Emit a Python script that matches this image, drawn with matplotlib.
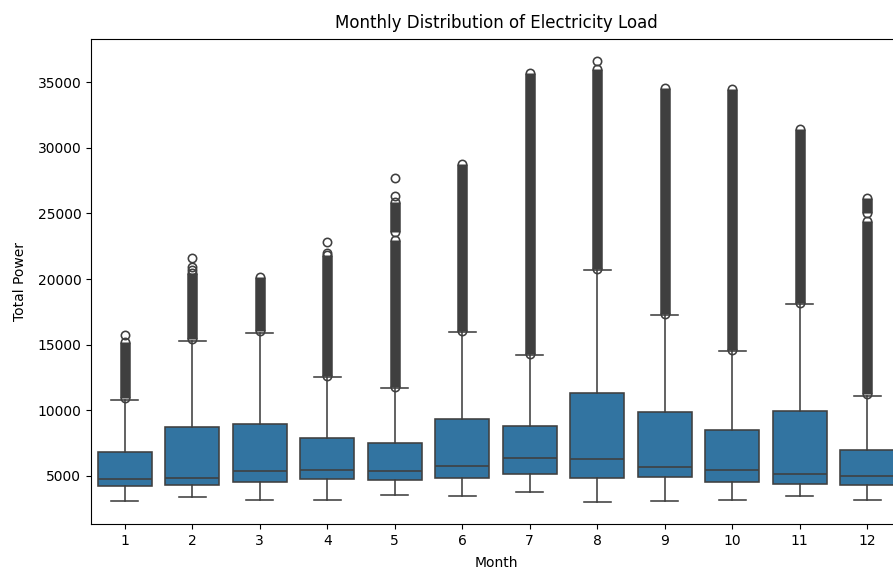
import matplotlib
matplotlib.use("Agg")
import matplotlib.pyplot as plt

months = [1, 2, 3, 4, 5, 6, 7, 8, 9, 10, 11, 12]
q1 = [4190, 4260, 4520, 4750, 4670, 4830, 5150, 4830, 4920, 4520, 4370, 4260]
med = [4750, 4830, 5380, 5460, 5380, 5710, 6350, 6270, 5630, 5460, 5130, 4950]
q3 = [6830, 8680, 8980, 7870, 7460, 9340, 8780, 11320, 9850, 8500, 9950, 6980]
whislo = [3070, 3380, 3150, 3170, 3550, 3480, 3730, 3000, 3070, 3170, 3420, 3170]
whishi = [10790, 15300, 15870, 12520, 11700, 15940, 14210, 20690, 17240, 14520, 18120, 11090]

# dense runs of outliers (overlapping markers), read as (low, high) per month
flier_dense = [
    [(10900, 15200)],
    [(15400, 20450)],
    [(16000, 20150)],
    [(12600, 21800)],
    [(11800, 23000), (23600, 25850)],
    [(16050, 28800)],
    [(14300, 35700)],
    [(20800, 36000)],
    [(17350, 34550)],
    [(14600, 34500)],
    [(18200, 31450)],
    [(11200, 24400), (25000, 26150)],
]
# isolated outliers per month
flier_single = [
    [15700],
    [20700, 20950, 21580],
    [],
    [21950, 22840],
    [26320, 27670],
    [],
    [],
    [36620],
    [],
    [],
    [],
    [],
]

box_color = "#3274a1"
line_color = "#3f3f3f"
lw = 1.15
msize = 6.0
outer_pt = msize + lw

fig = plt.figure(figsize=(8.93, 5.70), dpi=100)
ax = fig.add_axes([91 / 893, 46 / 570, 810 / 893, 485 / 570])

stats = []
for i in range(len(months)):
    stats.append(dict(med=med[i], q1=q1[i], q3=q3[i],
                      whislo=whislo[i], whishi=whishi[i], fliers=[]))
pos = list(range(len(months)))
ax.bxp(stats, positions=pos, widths=0.8, capwidths=0.4, showfliers=False,
       patch_artist=True,
       boxprops=dict(facecolor=box_color, edgecolor=line_color, linewidth=lw),
       medianprops=dict(color=line_color, linewidth=lw),
       whiskerprops=dict(color=line_color, linewidth=lw),
       capprops=dict(color=line_color, linewidth=lw))

for i, segs in enumerate(flier_dense):
    for lo, hi in segs:
        ax.vlines(i, lo, hi, colors=line_color, linewidth=outer_pt * 1.06, zorder=3)
        ax.plot([i, i], [lo, hi], linestyle="none", marker="o", markersize=msize,
                markerfacecolor="none", markeredgecolor=line_color,
                markeredgewidth=lw, zorder=3)
for i, pts in enumerate(flier_single):
    if pts:
        ax.plot([i] * len(pts), pts, linestyle="none", marker="o", markersize=msize,
                markerfacecolor="none", markeredgecolor=line_color,
                markeredgewidth=lw, zorder=3)

ax.set_xlim(-0.5, len(months) - 0.5)
ax.set_xticks(pos)
ax.set_xticklabels([str(m) for m in months])
ax.margins(y=0.05)
ax.autoscale(axis="y")
ax.set_yticks([5000, 10000, 15000, 20000, 25000, 30000, 35000])
ax.set_xlabel("Month", labelpad=6)
ax.set_ylabel("Total Power", labelpad=7.5)
ax.set_title("Monthly Distribution of Electricity Load", pad=8)

fig.savefig("out.png", dpi=100)
